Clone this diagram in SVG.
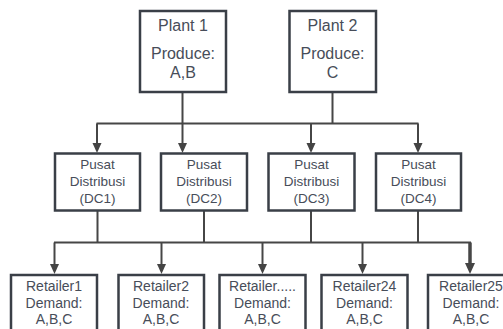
<svg xmlns="http://www.w3.org/2000/svg" width="503" height="329" viewBox="0 0 503 329">
<defs>
<style>
.box{fill:#ffffff;stroke:#3a3f47;stroke-width:2.5}
.ln{fill:none;stroke:#464646;stroke-width:2}
.ah{fill:#444444}
.t{font-family:"Liberation Sans",Arial,sans-serif;fill:#474d59;text-anchor:middle}
.tp{font-size:16px}
.td{font-size:13.5px}
.tr{font-size:14px}
</style>
</defs>
<rect width="503" height="329" fill="#ffffff"/>
<g id="connectors">
<path class="ln" d="M182.5,92 V123.5 M332.5,92 V123.5 M96.5,123.5 H418.5"/>
<path class="ln" d="M97,123.5 V146"/>
<path class="ln" d="M182.5,123.5 V146"/>
<path class="ln" d="M311,123.5 V146"/>
<path class="ln" d="M418,123.5 V146"/>
<path class="ln" d="M97.5,210.5 V242.5 M204,210.5 V242.5 M311,210.5 V242.5 M418,210.5 V242.5 M54,242.5 H471"/>
<path class="ln" d="M54.5,242.5 V267"/>
<path class="ln" d="M161.5,242.5 V267"/>
<path class="ln" d="M262.5,242.5 V267"/>
<path class="ln" d="M362.5,242.5 V267"/>
<path class="ln" style="stroke-width:3.5" d="M470,242.5 V267"/>
<path class="ah" d="M92.5,143 L101.5,143 L97,153 Z"/>
<path class="ah" d="M178,143 L187,143 L182.5,153 Z"/>
<path class="ah" d="M306.5,143 L315.5,143 L311,153 Z"/>
<path class="ah" d="M413.5,143 L422.5,143 L418,153 Z"/>
<path class="ah" d="M50,264 L59,264 L54.5,274 Z"/>
<path class="ah" d="M157,264 L166,264 L161.5,274 Z"/>
<path class="ah" d="M258,264 L267,264 L262.5,274 Z"/>
<path class="ah" d="M358,264 L367,264 L362.5,274 Z"/>
<path class="ah" d="M465,263 L475,263 L470,274 Z"/>
</g>
<g id="plant1">
<rect class="box" x="140" y="11" width="86" height="81"/>
<text class="t tp" x="183" y="30.5">Plant 1</text>
<text class="t tp" x="183" y="58.5">Produce:</text>
<text class="t tp" x="183" y="77.5">A,B</text>
</g>
<g id="plant2">
<rect class="box" x="289.5" y="11" width="86.5" height="81"/>
<text class="t tp" x="332.5" y="30.5">Plant 2</text>
<text class="t tp" x="332.5" y="58.5">Produce:</text>
<text class="t tp" x="332.5" y="77.5">C</text>
</g>
<g id="dc1">
<rect class="box" x="55" y="153.5" width="85" height="57"/>
<text class="t td" x="97.5" y="169">Pusat</text>
<text class="t td" x="97.5" y="186">Distribusi</text>
<text class="t td" x="97.5" y="203">(DC1)</text>
</g>
<g id="dc2">
<rect class="box" x="161" y="153.5" width="86" height="57"/>
<text class="t td" x="204" y="169">Pusat</text>
<text class="t td" x="204" y="186">Distribusi</text>
<text class="t td" x="204" y="203">(DC2)</text>
</g>
<g id="dc3">
<rect class="box" x="268.5" y="153.5" width="86" height="57"/>
<text class="t td" x="311.5" y="169">Pusat</text>
<text class="t td" x="311.5" y="186">Distribusi</text>
<text class="t td" x="311.5" y="203">(DC3)</text>
</g>
<g id="dc4">
<rect class="box" x="376" y="153.5" width="85" height="57"/>
<text class="t td" x="418.5" y="169">Pusat</text>
<text class="t td" x="418.5" y="186">Distribusi</text>
<text class="t td" x="418.5" y="203">(DC4)</text>
</g>
<g id="retailer1">
<rect class="box" x="11" y="275" width="86" height="70"/>
<text class="t tr" x="54" y="291">Retailer1</text>
<text class="t tr" x="54" y="307.5">Demand:</text>
<text class="t tr" x="54" y="324">A,B,C</text>
</g>
<g id="retailer2">
<rect class="box" x="118.5" y="275" width="85.5" height="70"/>
<text class="t tr" x="161" y="291">Retailer2</text>
<text class="t tr" x="161" y="307.5">Demand:</text>
<text class="t tr" x="161" y="324">A,B,C</text>
</g>
<g id="retailer3">
<rect class="box" x="219.5" y="275" width="86" height="70"/>
<text class="t tr" x="262.5" y="291">Retailer.....</text>
<text class="t tr" x="262.5" y="307.5">Demand:</text>
<text class="t tr" x="262.5" y="324">A,B,C</text>
</g>
<g id="retailer24">
<rect class="box" x="321.5" y="275" width="86" height="70"/>
<text class="t tr" x="364.5" y="291">Retailer24</text>
<text class="t tr" x="364.5" y="307.5">Demand:</text>
<text class="t tr" x="364.5" y="324">A,B,C</text>
</g>
<g id="retailer25">
<rect class="box" x="428" y="275" width="86" height="70"/>
<text class="t tr" x="471" y="291">Retailer25</text>
<text class="t tr" x="471" y="307.5">Demand:</text>
<text class="t tr" x="471" y="324">A,B,C</text>
</g>
</svg>
